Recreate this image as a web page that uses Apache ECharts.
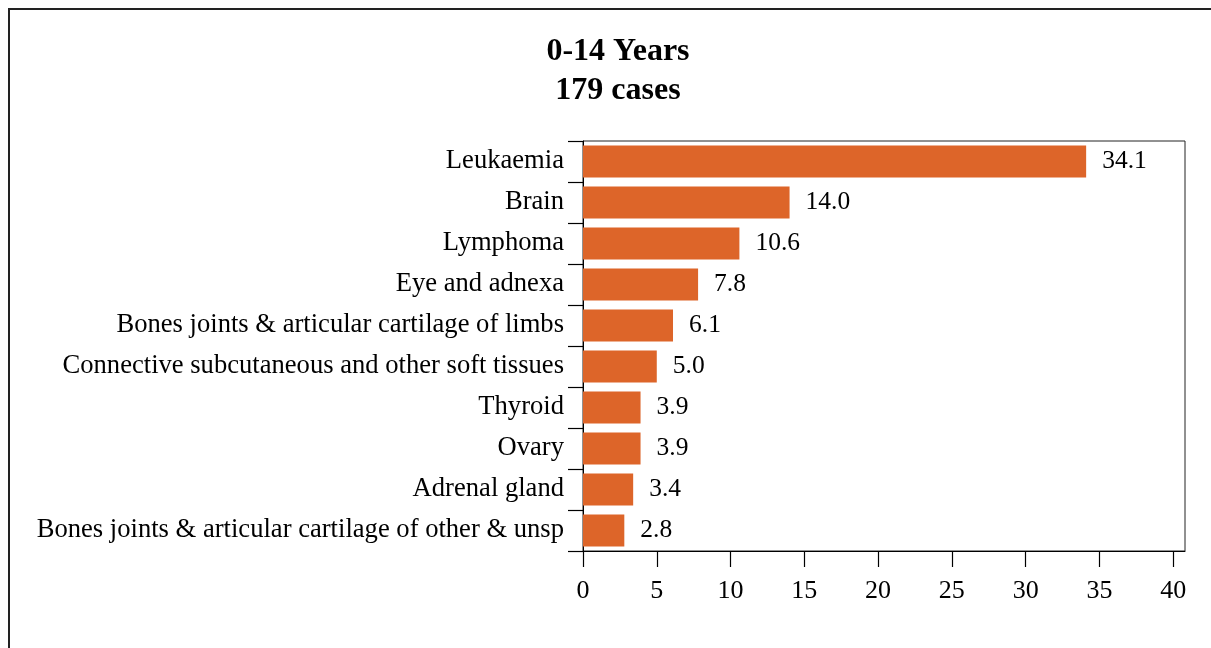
<!DOCTYPE html>
<html>
<head>
<meta charset="utf-8">
<script src="https://cdn.jsdelivr.net/npm/echarts@6/dist/echarts.min.js"></script>
<style>
  html, body { margin: 0; padding: 0; background: #fff; }
  #frame {
    position: absolute; left: 8px; top: 8px;
    width: 1400px; height: 800px;
    border: 2px solid #222; box-sizing: border-box;
  }
  #chart-1 { position: absolute; left: 0; top: 0; width: 1211px; height: 648px; }
</style>
</head>
<body>
<div id="frame"></div>
<div id="chart-1"></div>
<script>
// data
var categories = [
  "Leukaemia",
  "Brain",
  "Lymphoma",
  "Eye and adnexa",
  "Bones joints & articular cartilage of limbs",
  "Connective subcutaneous and other soft tissues",
  "Thyroid",
  "Ovary",
  "Adrenal gland",
  "Bones joints & articular cartilage of other & unsp",
];
var percents = [34.1, 14.0, 10.6, 7.8, 6.1, 5.0, 3.9, 3.9, 3.4, 2.8];
var xTicks = [0, 5, 10, 15, 20, 25, 30, 35, 40];
var titleText = "0-14 Years\n179 cases";

/**Chart 1**/
var dom = document.getElementById("chart-1");
var Chart1 = echarts.init(dom, null, {
  renderer: "canvas",
  useDirtyRect: false,
});

var serif = "'Liberation Serif', 'DejaVu Serif', serif";

var option = {
  animation: false,
  title: {
    text: titleText,
    left: 613,
    top: 27,
    textAlign: "center",
    textStyle: {
      fontFamily: serif,
      fontSize: 32,
      fontWeight: "bold",
      color: "#000",
      lineHeight: 39,
      align: "center",
    },
  },
  grid: {
    left: 583,
    top: 141,
    width: 602,
    height: 410,
    show: true,
    borderColor: "#222",
    borderWidth: 1,
    containLabel: false,
  },
  xAxis: {
    type: "value",
    min: 0,
    max: 40.8,
    interval: 5,
    splitLine: { show: false },
    axisLine: { show: true, lineStyle: { color: "#000", width: 1 } },
    axisTick: {
      show: true,
      length: 16,
      customValues: xTicks,
      lineStyle: { color: "#000", width: 1.2 },
    },
    axisLabel: {
      customValues: xTicks,
      margin: 27,
      fontFamily: serif,
      fontSize: 26,
      color: "#000",
    },
  },
  yAxis: {
    type: "category",
    inverse: true,
    data: categories,
    axisLine: { show: true, lineStyle: { color: "#000", width: 1 } },
    axisTick: {
      show: true,
      length: 15,
      alignWithLabel: false,
      lineStyle: { color: "#000", width: 1.2 },
    },
    axisLabel: {
      margin: 19,
      fontFamily: serif,
      fontSize: 26.6,
      color: "#000",
      padding: [6, 0, 0, 0],
    },
  },
  series: [
    {
      name: "Percent",
      type: "bar",
      data: percents,
      barCategoryGap: "22%",
      itemStyle: { color: "#DD6529" },
      label: {
        show: true,
        position: "right",
        distance: 16,
        fontFamily: serif,
        fontSize: 25.5,
        color: "#000",
        padding: [7, 0, 0, 0],
        formatter: function (p) {
          return p.value.toFixed(1);
        },
      },
    },
  ],
};

if (option && typeof option === "object") {
  Chart1.setOption(option);
}

window.addEventListener("resize", Chart1.resize);
/**End Chart 1**/
</script>
</body>
</html>
